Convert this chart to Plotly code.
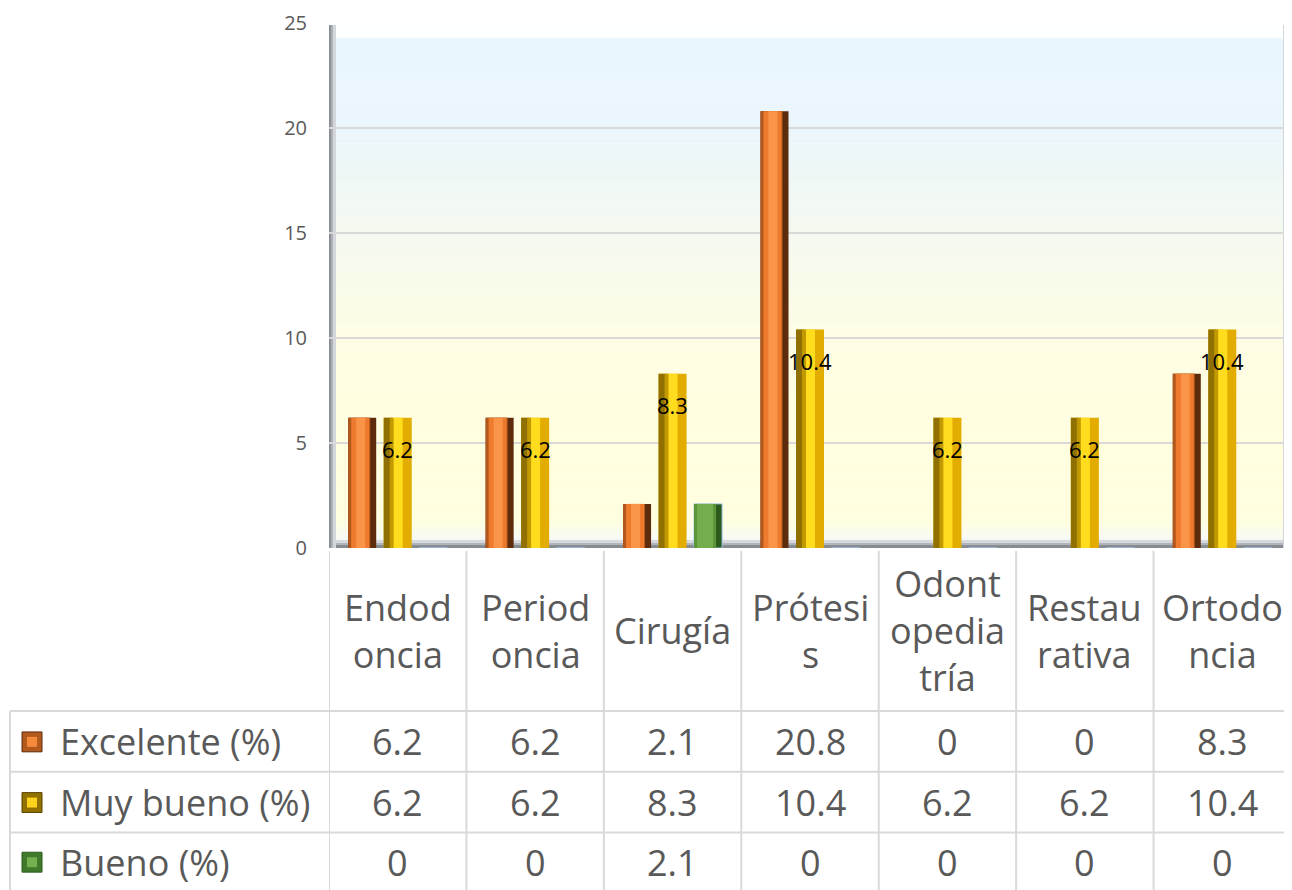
import plotly.graph_objects as go

# ---------------- data ----------------
categories = ["Endodoncia", "Periodoncia", "Cirugía", "Prótesis",
              "Odontopediatría", "Restaurativa", "Ortodoncia"]
header_labels = ["Endod<br>oncia", "Period<br>oncia", "Cirugía", "Prótesi<br>s",
                 "Odont<br>opedia<br>tría", "Restau<br>rativa", "Ortodo<br>ncia"]
excelente = [6.2, 6.2, 2.1, 20.8, 0, 0, 8.3]
muy_bueno = [6.2, 6.2, 8.3, 10.4, 6.2, 6.2, 10.4]
bueno = [0, 0, 2.1, 0, 0, 0, 0]
series_names = ["Excelente (%)", "Muy bueno (%)", "Bueno (%)"]
y_ticks = [0, 5, 10, 15, 20, 25]

# ---------------- geometry helpers ----------------
OFF = 8                      # page body margin of the html page
W, H = 1292 - OFF, 890 - OFF
L, R, T, B = 329 - OFF, 1, 20 - OFF, 342
PW = W - L - R
PH = H - T - B
CAT_PX = PW / len(categories)
FONT = "Open Sans"
TXT = "#595959"
GRID = "#D9D9D9"


def px_x(p):  # reference-image pixel x -> paper
    return (p - OFF - L) / PW


def px_y(p):  # reference-image pixel y -> paper
    return (H - B - (p - OFF)) / PH


def u(px):  # pixels -> category units
    return px / CAT_PX


# bar layers: (start px, width px, colour) relative to the bar's left edge
series = [
    (excelente, -49.5, [(0, 28, "#5C2C0C"), (0, 22, "#B3581C"), (3, 18, "#EE7A2E"), (8, 9, "#FA9448")], None),
    (muy_bueno, -14.0, [(0, 28, "#E2AC00"), (0, 8, "#8F7000"), (6, 4, "#C29A00"), (10, 9, "#FFDD1E")], None),
    (bueno, 21.5, [(0, 28, "#2C5A1C"), (0, 22, "#5A9638"), (3, 16, "#74AE4C")], "#9DC3E6"),
]

fig = go.Figure()
for vals, left, layers, outline in series:
    for i, (s, w, c) in enumerate(layers):
        line = dict(width=0)
        if i == 0 and outline:
            line = dict(width=1, color=outline)
        fig.add_trace(go.Bar(
            x=categories, y=vals, offset=u(left + s), width=u(w),
            marker=dict(color=c, line=line),
            showlegend=False, hoverinfo="skip" if i else "y",
        ))

shapes = []

# plot-area gradient (light blue at top -> light yellow at bottom)
stops = [(25, (234, 246, 254)), (20, (235, 246, 252)), (15, (244, 249, 240)),
         (10, (254, 252, 227)), (5, (255, 255, 224)), (1.2, (255, 255, 224)),
         (0.4, (246, 248, 246)), (0, (240, 242, 244))]


def col_at(v):
    for (v0, c0), (v1, c1) in zip(stops[:-1], stops[1:]):
        if v1 <= v <= v0:
            t = (v0 - v) / (v0 - v1) if v0 != v1 else 0
            return "rgb(%d,%d,%d)" % tuple(round(a + (b - a) * t) for a, b in zip(c0, c1))
    return "rgb(255,255,255)"


N = 100
for i in range(N):
    y1 = 25 - 25 * i / N
    y0 = 25 - 25 * (i + 1) / N
    shapes.append(dict(type="rect", xref="x domain", yref="y", x0=0, x1=1, y0=y0, y1=y1 + 0.01,
                       fillcolor=col_at((y0 + y1) / 2), line=dict(width=0), layer="below"))

# bevel edges of plot area
shapes.append(dict(type="rect", xref="x domain", yref="paper", x0=0, x1=1, y0=px_y(35), y1=px_y(20),
                   fillcolor="rgba(255,255,255,0.95)", line=dict(width=0), layer="below"))
bottom_band = [("#D6DADE", 540, 543), ("#B0B5BA", 543, 545), ("#868C91", 545, 548)]
for c, a, b in bottom_band:
    shapes.append(dict(type="rect", xref="x domain", yref="paper", x0=0, x1=1, y0=px_y(b), y1=px_y(a),
                       fillcolor=c, line=dict(width=0), layer="below"))
left_band = [("#8A9096", 329, 331), ("#AEB3B8", 331, 333), ("#D3D7DB", 333, 336)]
for c, a, b in left_band:
    shapes.append(dict(type="rect", xref="paper", yref="paper", x0=px_x(a), x1=px_x(b), y0=px_y(548), y1=px_y(22),
                       fillcolor=c, line=dict(width=0), layer="below"))
right_band = [("#D3D7DB", 1283, 1286), ("#AEB3B8", 1286, 1289), ("#8A9096", 1289, 1291)]
for c, a, b in right_band:
    shapes.append(dict(type="rect", xref="paper", yref="paper", x0=px_x(a), x1=px_x(b), y0=px_y(548), y1=px_y(22),
                       fillcolor=c, line=dict(width=0), layer="below"))

# ---------------- data table below the plot ----------------
row_lines = [712, 773, 834]
row_centers = [743, 804, 864]
header_center = 631
line_style = dict(color=GRID, width=2)

for k in range(len(categories)):
    shapes.append(dict(type="line", xref="x", yref="paper", x0=k - 0.5, x1=k - 0.5,
                       y0=px_y(551), y1=px_y(900), line=line_style))
for p in row_lines:
    shapes.append(dict(type="line", xref="paper", yref="paper", x0=px_x(10), x1=px_x(1300),
                       y0=px_y(p), y1=px_y(p), line=line_style))
shapes.append(dict(type="line", xref="paper", yref="paper", x0=px_x(10), x1=px_x(10),
                   y0=px_y(712), y1=px_y(900), line=line_style))

# legend keys inside the table
key_cols = [("#B3581C", "#F58A3C", "#5C2C0C"), ("#8F7000", "#FFD21E", "#5A4600"), ("#3F7A2A", "#76B04E", "#2C5A1C")]
for (c_out, c_in, c_ln), yc in zip(key_cols, row_centers):
    shapes.append(dict(type="rect", xref="paper", yref="paper", x0=px_x(22), x1=px_x(42),
                       y0=px_y(yc + 10), y1=px_y(yc - 10), fillcolor=c_out, line=dict(color=c_ln, width=1)))
    shapes.append(dict(type="rect", xref="paper", yref="paper", x0=px_x(27), x1=px_x(37),
                       y0=px_y(yc + 5), y1=px_y(yc - 5), fillcolor=c_in, line=dict(width=0)))

annotations = []
for cat, lab in zip(categories, header_labels):
    annotations.append(dict(x=cat, xref="x", y=px_y(header_center), yref="paper", text=lab,
                            showarrow=False, xanchor="center", yanchor="middle",
                            font=dict(family=FONT, size=36, color=TXT)))
for name, vals, yc in zip(series_names, [excelente, muy_bueno, bueno], row_centers):
    annotations.append(dict(x=px_x(58), xref="paper", y=px_y(yc), yref="paper", text=name,
                            showarrow=False, xanchor="left", yanchor="middle",
                            font=dict(family=FONT, size=36, color=TXT)))
    for cat, v in zip(categories, vals):
        annotations.append(dict(x=cat, xref="x", y=px_y(yc), yref="paper", text=f"{v:g}",
                                showarrow=False, xanchor="center", yanchor="middle",
                                font=dict(family=FONT, size=36, color=TXT)))

# data labels on the "Muy bueno" series
for cat, v in zip(categories, muy_bueno):
    annotations.append(dict(x=cat, xref="x", y=v, yref="y", yshift=-31, text=f"{v:g}",
                            showarrow=False, xanchor="center", yanchor="middle",
                            font=dict(family=FONT, size=22, color="#000000")))

fig.update_layout(
    width=W, height=H,
    margin=dict(l=L, r=R, t=T, b=B, pad=0),
    paper_bgcolor="white", plot_bgcolor="white",
    barmode="overlay",
    showlegend=False,
    shapes=shapes,
    annotations=annotations,
    font=dict(family=FONT, color=TXT),
    xaxis=dict(type="category", range=[-0.5, len(categories) - 0.5], showticklabels=False,
               showgrid=False, zeroline=False, showline=False, ticks=""),
    yaxis=dict(range=[0, 25], tickvals=y_ticks, ticktext=[str(t) for t in y_ticks],
               showgrid=True, gridcolor=GRID, gridwidth=2, zeroline=False, showline=False,
               ticks="outside", ticklen=17, tickcolor="rgba(0,0,0,0)",
               ticklabeloverflow="allow",
               tickfont=dict(family=FONT, size=20, color=TXT)),
)

fig.write_html("out.html")
